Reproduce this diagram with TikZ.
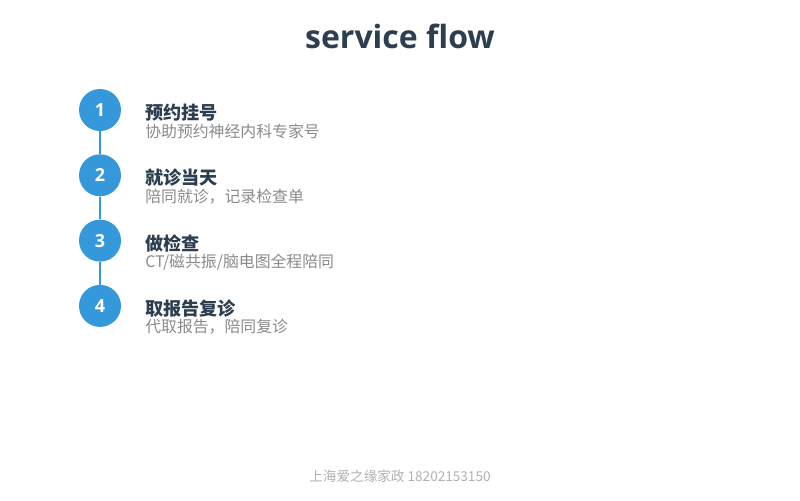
\documentclass[tikz,border=0pt]{standalone}
\usepackage{fontspec}
\setmainfont{Noto Sans CJK SC}
\newfontfamily\titlefont{Open Sans}
\usepackage{xcolor}
\usetikzlibrary{positioning}
\definecolor{stepblue}{HTML}{3498DB}
\definecolor{darknavy}{HTML}{2C3E50}
\definecolor{subgray}{HTML}{8A8A8A}
\definecolor{footgray}{HTML}{B0B0B0}
\tikzset{
  stepdot/.style={circle,fill=stepblue,minimum size=31.5pt,inner sep=0pt,
    text=white,font=\titlefont\bfseries\fontsize{13.5}{15}\selectfont},
  stephead/.style={anchor=base west,inner sep=0pt,text=darknavy,
    font=\bfseries\fontsize{13.6}{15}\selectfont},
  stepsub/.style={anchor=base west,inner sep=0pt,text=subgray,
    font=\fontsize{11.9}{13}\selectfont}
}
\begin{document}
\begin{tikzpicture}[x=0.75pt,y=-0.75pt]
  \useasboundingbox (0,0) rectangle (800,500);
  \node[anchor=base,inner sep=0pt,text=darknavy,
    font=\titlefont\bfseries\fontsize{24}{28}\selectfont] (title) at (400,48) {service flow};
  \foreach \h/\s [count=\i from 1] in {预约挂号/协助预约神经内科专家号,
      就诊当天/陪同就诊，记录检查单,
      做检查/{CT/磁共振/脑电图全程陪同},
      取报告复诊/代取报告，陪同复诊}{
    \node[stepdot] (n\i) at (100,{110+(\i-1)*65.3}) {\i};
    \node[stephead] (h\i) at (145,{119.5+(\i-1)*65.3}) {\h};
    \node[stepsub] (s\i) at (145,{137+(\i-1)*65.3}) {\s};}
  \foreach \i/\j in {1/2,2/3,3/4}{
    \draw[stepblue,line width=1.5pt] (n\i) -- (n\j);}
  \node[anchor=base,inner sep=0pt,text=footgray,
    font=\fontsize{10.2}{12}\selectfont] (foot) at (400,481) {上海爱之缘家政 18202153150};
\end{tikzpicture}
\end{document}
